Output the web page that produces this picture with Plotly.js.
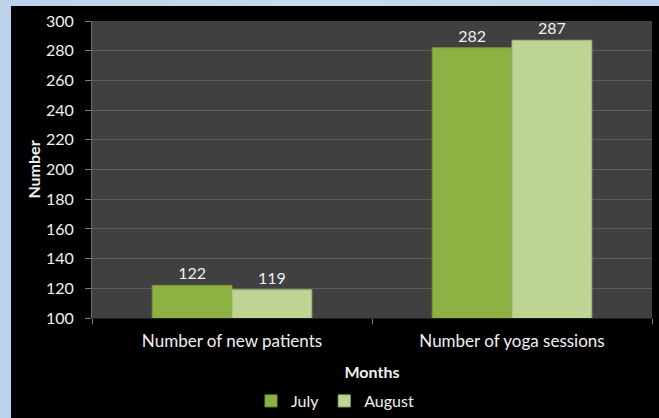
<!DOCTYPE html>
<html>
<head>
<meta charset="utf-8">
<script src="https://cdn.plot.ly/plotly-3.0.1.min.js"></script>
<style>
html,body{margin:0;padding:0;width:659px;height:418px;overflow:hidden;
background:linear-gradient(90deg,#bcd2ea 0%,#c8daee 50%,#bcd2ea 100%);}
#chart{position:absolute;left:11px;top:6px;width:648px;height:412px;}
</style>
</head>
<body>
<div id="chart"></div>
<script>
var categories = ["Number of new patients", "Number of yoga sessions"];
var julyValues = [122, 282];
var augustValues = [119, 287];
var seriesNames = ["July", "August"];
var yTicks = [100, 120, 140, 160, 180, 200, 220, 240, 260, 280, 300];

var fontFam = "Lato, 'Open Sans', sans-serif";

var traces = [
  {type:'bar', name:seriesNames[0], x:categories, y:julyValues,
   marker:{color:'#8db143', line:{color:'#76953a', width:1}},
   text:julyValues.map(String), textposition:'outside', cliponaxis:false,
   textfont:{color:'#f0f0f0', size:16, family:fontFam}},
  {type:'bar', name:seriesNames[1], x:categories, y:augustValues,
   marker:{color:'#bdd493', line:{color:'#9fb57a', width:1}},
   text:augustValues.map(String), textposition:'outside', cliponaxis:false,
   textfont:{color:'#f0f0f0', size:16, family:fontFam}}
];

var layout = {
  width:648, height:412,
  paper_bgcolor:'#000000', plot_bgcolor:'#404040',
  margin:{l:81, r:7, t:15, b:100},
  font:{family:fontFam, color:'#f0f0f0', size:16},
  barmode:'group', bargap:0.43, bargroupgap:0,
  showlegend:true,
  legend:{orientation:'h', xref:'container', yref:'container', x:0.5, xanchor:'center',
          y:0.0, yanchor:'bottom', font:{size:16, color:'#f0f0f0'}, bgcolor:'rgba(0,0,0,0)',
          itemwidth:30, tracegroupgap:0},
  xaxis:{type:'category', showgrid:false, ticks:'outside', tickson:'boundaries', ticklen:5,
         tickcolor:'#808080', showline:true, linecolor:'#202020', linewidth:1,
         ticklabelstandoff:8,
         tickfont:{size:17, color:'#f0f0f0'},
         title:{text:'<b>Months</b>', font:{size:16, color:'#f0f0f0'}, standoff:16}},
  yaxis:{range:[100,300], tickvals:yTicks, ticktext:yTicks.map(String),
         showgrid:true, gridcolor:'#5e5e5e', gridwidth:1, zeroline:false,
         ticks:'outside', ticklen:6, tickcolor:'#808080',
         showline:true, linecolor:'#6a6a6a', linewidth:1,
         ticklabelstandoff:8,
         tickfont:{size:16, color:'#f0f0f0'},
         title:{text:'<b>Number</b>', font:{size:16, color:'#f0f0f0'}, standoff:1}}
};

Plotly.newPlot('chart', traces, layout, {displayModeBar:false, staticPlot:true});
</script>
</body>
</html>
